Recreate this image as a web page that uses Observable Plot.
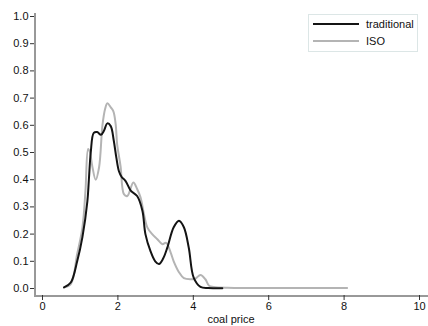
<!DOCTYPE html>
<html>
<head>
<meta charset="utf-8">
<script src="https://cdn.jsdelivr.net/npm/d3@7"></script>
<script src="https://cdn.jsdelivr.net/npm/@observablehq/plot@0.6"></script>
<style>
  html, body { margin: 0; padding: 0; background: #fff; }
  #chart { position: relative; width: 428px; height: 326px; font-family: "Liberation Sans", Arial, sans-serif; }
  #legend { position: absolute; left: 308px; top: 14px; width: 110px; height: 38px; border: 1px solid #dce6e6; background: #fff; box-sizing: border-box; font-size: 11px; color: #111; }
  #legend .row { position: absolute; left: 4px; display: flex; align-items: center; }
  #legend .swatch { width: 46px; height: 0; border-top-width: 2px; border-top-style: solid; margin-right: 7px; }
</style>
</head>
<body>
<div id="chart"></div>
<script>
// Kernel density of coal price, two market designs
const series = ["traditional", "ISO"];
const colors = ["#141414", "#b4b4b4"];

const traditionalPrice = [0.57, 0.75, 0.92, 1.06, 1.19, 1.23, 1.28, 1.36, 1.45, 1.55, 1.63, 1.72, 1.81, 1.89, 1.96, 2.03, 2.10, 2.20, 2.34, 2.51, 2.65, 2.73, 2.86, 2.99, 3.09, 3.20, 3.31, 3.48, 3.62, 3.75, 3.88, 4.01, 4.19, 4.40, 4.77];
const traditionalDensity = [0.004, 0.022, 0.10, 0.19, 0.32, 0.40, 0.50, 0.572, 0.575, 0.565, 0.58, 0.607, 0.597, 0.544, 0.48, 0.43, 0.41, 0.396, 0.36, 0.34, 0.286, 0.20, 0.139, 0.10, 0.09, 0.11, 0.15, 0.225, 0.249, 0.225, 0.15, 0.04, 0.006, 0.002, 0.001];

const isoPrice = [0.57, 0.75, 0.92, 1.06, 1.14, 1.21, 1.26, 1.32, 1.41, 1.50, 1.59, 1.66, 1.72, 1.81, 1.88, 1.94, 1.98, 2.07, 2.16, 2.25, 2.41, 2.51, 2.60, 2.69, 2.78, 2.91, 3.04, 3.18, 3.28, 3.40, 3.48, 3.62, 3.75, 3.93, 4.05, 4.19, 4.32, 4.42, 4.54, 4.90, 5.5, 6.5, 7.5, 8.08];
const isoDensity = [0.004, 0.016, 0.127, 0.225, 0.36, 0.513, 0.50, 0.45, 0.40, 0.445, 0.60, 0.66, 0.681, 0.666, 0.651, 0.605, 0.53, 0.45, 0.347, 0.34, 0.39, 0.366, 0.335, 0.274, 0.225, 0.20, 0.182, 0.163, 0.168, 0.132, 0.10, 0.06, 0.038, 0.034, 0.036, 0.05, 0.034, 0.01, 0.006, 0.003, 0.002, 0.002, 0.002, 0.002];

const xTicks = [0, 2, 4, 6, 8, 10];
const yTicks = [0, 0.1, 0.2, 0.3, 0.4, 0.5, 0.6, 0.7, 0.8, 0.9, 1.0];

const rows = [
  ...traditionalPrice.map((p, i) => ({series: series[0], price: p, density: traditionalDensity[i]})),
  ...isoPrice.map((p, i) => ({series: series[1], price: p, density: isoDensity[i]}))
];

const plot = Plot.plot({
  width: 428,
  height: 326,
  marginLeft: 42,
  marginRight: 9,
  marginTop: 16,
  marginBottom: 38,
  style: {fontFamily: "'Liberation Sans', Arial, sans-serif", fontSize: "11px", color: "#111", background: "#fff"},
  x: {domain: [0, 10]},
  y: {domain: [0, 1]},
  color: {domain: series, range: colors},
  marks: [
    Plot.ruleY([0], {dy: 7.5, insetLeft: -8, insetRight: -9, stroke: "#333", strokeWidth: 1}),
    Plot.ruleX([0], {dx: -7.5, insetTop: -3, insetBottom: -7, stroke: "#333", strokeWidth: 1}),
    Plot.axisY({ticks: yTicks, tickFormat: d3.format(".1f"), dx: -8, tickSize: 4, tickPadding: 2, label: null, stroke: "#333"}),
    Plot.axisX({ticks: xTicks, tickFormat: d3.format("d"), dy: 7, tickSize: 5, tickPadding: 2, label: "coal price", labelAnchor: "center", labelArrow: "none", labelOffset: 34, stroke: "#333"}),
    Plot.line(rows.filter(d => d.series === "ISO"), {x: "price", y: "density", stroke: "series", strokeWidth: 2, curve: "catmull-rom"}),
    Plot.line(rows.filter(d => d.series === "traditional"), {x: "price", y: "density", stroke: "series", strokeWidth: 2, curve: "catmull-rom"})
  ]
});

const chart = document.getElementById("chart");
chart.appendChild(plot);

// Legend box in the upper right
const legend = document.createElement("div");
legend.id = "legend";
series.forEach((s, i) => {
  const row = document.createElement("div");
  row.className = "row";
  row.style.top = (i === 0 ? 3 : 20) + "px";
  const sw = document.createElement("span");
  sw.className = "swatch";
  sw.style.borderTopColor = colors[i];
  const label = document.createElement("span");
  label.textContent = s;
  row.appendChild(sw);
  row.appendChild(label);
  legend.appendChild(row);
});
chart.appendChild(legend);
</script>
</body>
</html>
